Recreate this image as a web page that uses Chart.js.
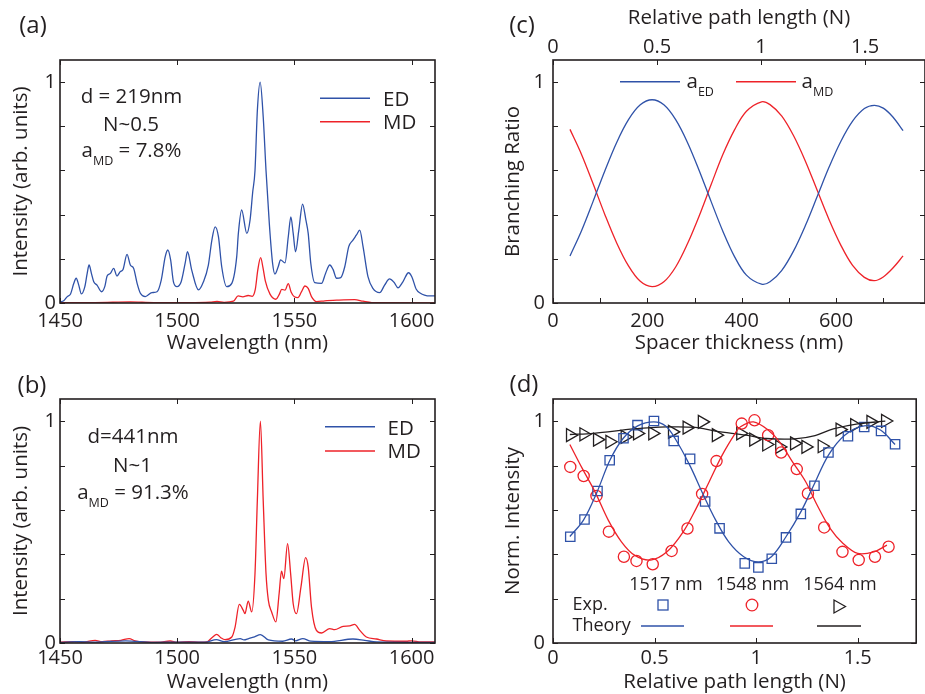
<!DOCTYPE html>
<html>
<head>
<meta charset="utf-8">
<script src="https://cdn.jsdelivr.net/npm/chart.js@4"></script>
<style>
  html, body { margin: 0; padding: 0; background: #fff; overflow: hidden; }
  body { width: 925px; height: 694px; position: relative; font-family: "Open Sans", sans-serif; color: #231f20; }
  canvas { position: absolute; }
  .t { position: absolute; white-space: nowrap; line-height: 1; font-size: 20.5px; }
  .c { transform: translate(-50%, -50%); }
  .l { transform: translateY(-50%); }
  .t sub { font-size: 12.5px; line-height: 0; vertical-align: -8px; }
  .tag { font-size: 24px; }
  .small { font-size: 18px; }
</style>
</head>
<body>
<canvas id="chart-a" width="460" height="356" style="left:0;top:0"></canvas>
<canvas id="chart-b" width="460" height="334" style="left:0;top:360px"></canvas>
<canvas id="chart-c" width="465" height="356" style="left:460px;top:0"></canvas>
<canvas id="chart-d" width="465" height="334" style="left:460px;top:360px"></canvas>

<div class="t c tag" style="left:33px;top:24px">(a)</div>
<div class="t c tag" style="left:32px;top:384px">(b)</div>
<div class="t c tag" style="left:522px;top:24px">(c)</div>
<div class="t c tag" style="left:524px;top:383px">(d)</div>

<div class="t c" style="left:131.5px;top:95.3px">d = 219nm</div>
<div class="t c" style="left:131px;top:122.6px">N~0.5</div>
<div class="t c" style="left:131.5px;top:150.3px">a<sub>MD</sub> = 7.8%</div>
<div class="t l" style="left:383px;top:97.5px">ED</div>
<div class="t l" style="left:383px;top:121.2px">MD</div>

<div class="t c" style="left:133px;top:435.3px">d=441nm</div>
<div class="t c" style="left:132.5px;top:463.6px">N~1</div>
<div class="t c" style="left:133px;top:492.3px">a<sub>MD</sub> = 91.3%</div>
<div class="t l" style="left:387.5px;top:426.7px">ED</div>
<div class="t l" style="left:387.5px;top:450.3px">MD</div>

<div class="t l" style="left:686.5px;top:81.4px">a<sub>ED</sub></div>
<div class="t l" style="left:801.5px;top:81.4px">a<sub>MD</sub></div>

<div class="t c small" style="left:666px;top:583.3px">1517 nm</div>
<div class="t c small" style="left:752.5px;top:583.3px">1548 nm</div>
<div class="t c small" style="left:840px;top:583.3px">1564 nm</div>
<div class="t l small" style="left:572.5px;top:603.3px">Exp.</div>
<div class="t l small" style="left:572.5px;top:624.3px">Theory</div>

<script>
const INK = "#231f20";
const BLUE = "#2f52a8";
const RED = "#ee2229";

// (a) d = 219 nm spectrum
const wavelengthEdA = [1450, 1451.6, 1453.1, 1454.5, 1455.9, 1456.9, 1458, 1459.1, 1460.6, 1461.6, 1462.4, 1463.4, 1464.4, 1465.8, 1467.7, 1469.1, 1470.1, 1471.5, 1472.9, 1474.3, 1475.7, 1476.9, 1478.6, 1480, 1481.4, 1482.9, 1484.3, 1486.4, 1489.2, 1491.4, 1493.2, 1494.9, 1496, 1497.2, 1498.4, 1499.9, 1501.7, 1503.4, 1504.4, 1506.2, 1509.1, 1511.2, 1513.3, 1514.8, 1516.2, 1517.6, 1519, 1521.1, 1523.3, 1525.4, 1526.1, 1527.5, 1529.7, 1531.1, 1532.2, 1533.2, 1534.2, 1535.4, 1536.7, 1537.9, 1539.3, 1540.7, 1541.7, 1543.1, 1544.1, 1546, 1547.4, 1548.5, 1549.5, 1550.5, 1551.9, 1553.5, 1554.9, 1555.9, 1557, 1558.7, 1561.6, 1563.3, 1565.1, 1566.5, 1568, 1569.8, 1571.5, 1573.2, 1575, 1576.5, 1577.9, 1579.3, 1581.4, 1583.5, 1586.4, 1588.5, 1590.6, 1592.5, 1594.2, 1596.3, 1598.7, 1600.1, 1602, 1603.8, 1605.5, 1607.7, 1610];
const intensityEdA = [0.005, 0.01, 0.029, 0.041, 0.089, 0.112, 0.081, 0.041, 0.074, 0.134, 0.172, 0.134, 0.096, 0.081, 0.051, 0.074, 0.122, 0.134, 0.157, 0.122, 0.142, 0.152, 0.22, 0.172, 0.157, 0.089, 0.044, 0.029, 0.047, 0.051, 0.104, 0.21, 0.24, 0.195, 0.096, 0.074, 0.096, 0.18, 0.232, 0.149, 0.059, 0.096, 0.172, 0.285, 0.345, 0.3, 0.164, 0.074, 0.089, 0.21, 0.315, 0.421, 0.315, 0.376, 0.5, 0.6, 0.87, 1.0, 0.843, 0.6, 0.361, 0.18, 0.131, 0.164, 0.195, 0.182, 0.3, 0.39, 0.315, 0.232, 0.33, 0.448, 0.376, 0.315, 0.18, 0.092, 0.089, 0.134, 0.172, 0.152, 0.112, 0.115, 0.164, 0.255, 0.285, 0.308, 0.33, 0.255, 0.119, 0.066, 0.047, 0.081, 0.109, 0.094, 0.069, 0.096, 0.137, 0.119, 0.062, 0.044, 0.036, 0.032, 0.032];
const wavelengthMdA = [1450, 1465, 1480, 1490, 1505, 1514, 1517, 1520, 1524, 1526, 1528, 1530.3, 1532, 1533.3, 1534.4, 1535.6, 1536.6, 1537.6, 1539.6, 1542.1, 1543.6, 1544.6, 1546, 1547.4, 1548.6, 1550, 1551.5, 1553, 1554.5, 1555.9, 1557.3, 1559.5, 1563, 1568.6, 1575.7, 1579.3, 1583, 1610];
const intensityMdA = [0.002, 0.002, 0.005, 0.002, 0.002, 0.004, 0.007, 0.003, 0.008, 0.032, 0.028, 0.034, 0.03, 0.06, 0.15, 0.205, 0.16, 0.1, 0.04, 0.017, 0.04, 0.062, 0.058, 0.088, 0.05, 0.028, 0.024, 0.05, 0.077, 0.066, 0.029, 0.006, 0.01, 0.013, 0.015, 0.008, 0.002, 0.001];

// (b) d = 441 nm spectrum
const wavelengthEdB = [1450, 1458, 1465, 1478, 1490, 1500, 1512, 1516.7, 1520, 1526.9, 1528.5, 1530.5, 1533, 1535.5, 1538.9, 1545, 1548.8, 1550.5, 1553.6, 1557, 1565, 1575, 1580, 1585, 1610];
const intensityEdB = [0.003, 0.006, 0.004, 0.01, 0.003, 0.004, 0.004, 0.015, 0.006, 0.02, 0.014, 0.02, 0.028, 0.038, 0.014, 0.008, 0.018, 0.01, 0.02, 0.008, 0.006, 0.018, 0.012, 0.005, 0.003];
const wavelengthMdB = [1450, 1456, 1460, 1465, 1468, 1472, 1476, 1479.5, 1482, 1486, 1492, 1497, 1500, 1505, 1510, 1512.6, 1514.8, 1516.9, 1518.6, 1520.4, 1523.3, 1524.7, 1526.5, 1528.2, 1528.9, 1530.3, 1531.8, 1533.2, 1534.2, 1535.5, 1536.7, 1537.9, 1538.9, 1540.3, 1542.1, 1543.5, 1544.5, 1545.5, 1547.1, 1548.4, 1549.5, 1550.9, 1552.8, 1554.8, 1555.9, 1557.3, 1559.4, 1561.6, 1565.1, 1567.2, 1570.8, 1573.6, 1575.7, 1577.9, 1580.7, 1585, 1589.2, 1597.7, 1600, 1604, 1610];
const intensityMdB = [0.004, 0.006, 0.004, 0.012, 0.006, 0.01, 0.012, 0.02, 0.01, 0.005, 0.004, 0.009, 0.004, 0.006, 0.004, 0.005, 0.024, 0.039, 0.024, 0.015, 0.027, 0.072, 0.174, 0.147, 0.132, 0.189, 0.14, 0.313, 0.643, 1.0, 0.643, 0.313, 0.192, 0.14, 0.095, 0.223, 0.324, 0.29, 0.448, 0.313, 0.177, 0.132, 0.252, 0.385, 0.342, 0.162, 0.057, 0.045, 0.065, 0.06, 0.075, 0.077, 0.084, 0.057, 0.027, 0.018, 0.009, 0.008, 0.01, 0.005, 0.005];

// (c) branching ratio vs spacer thickness
const spacerThickness = [36, 60, 85, 110, 135, 160, 185, 210, 235, 260, 285, 310, 335, 360, 385, 410, 442, 460, 485, 510, 535, 560, 585, 610, 635, 660, 681, 700, 720, 742];
const branchingEd = [0.213, 0.325, 0.46, 0.599, 0.727, 0.83, 0.897, 0.92, 0.897, 0.83, 0.727, 0.599, 0.46, 0.325, 0.209, 0.126, 0.085, 0.096, 0.148, 0.236, 0.351, 0.482, 0.614, 0.731, 0.823, 0.88, 0.895, 0.882, 0.843, 0.78];
const branchingMd = [0.786, 0.675, 0.54, 0.4, 0.272, 0.168, 0.098, 0.074, 0.096, 0.163, 0.268, 0.395, 0.535, 0.672, 0.785, 0.868, 0.911, 0.898, 0.846, 0.757, 0.642, 0.51, 0.378, 0.262, 0.17, 0.116, 0.101, 0.118, 0.157, 0.213];

// (d) normalised intensity vs relative path length
const pathExp1517 = [0.085, 0.155, 0.219, 0.279, 0.347, 0.416, 0.497, 0.594, 0.675, 0.749, 0.82, 0.944, 1.011, 1.077, 1.147, 1.22, 1.287, 1.356, 1.452, 1.532, 1.615, 1.684];
const normExp1517 = [0.479, 0.557, 0.685, 0.824, 0.923, 0.982, 1.001, 0.911, 0.83, 0.638, 0.517, 0.359, 0.341, 0.38, 0.476, 0.582, 0.709, 0.859, 0.932, 0.974, 0.956, 0.896];
const pathExp1548 = [0.085, 0.151, 0.214, 0.275, 0.349, 0.411, 0.491, 0.584, 0.662, 0.734, 0.805, 0.929, 0.992, 1.059, 1.123, 1.2, 1.255, 1.335, 1.425, 1.505, 1.585, 1.652];
const normExp1548 = [0.794, 0.753, 0.663, 0.502, 0.389, 0.37, 0.355, 0.415, 0.516, 0.672, 0.82, 0.989, 1.004, 0.937, 0.859, 0.784, 0.674, 0.521, 0.411, 0.374, 0.389, 0.434];
const pathExp1564 = [0.085, 0.151, 0.218, 0.279, 0.354, 0.415, 0.49, 0.587, 0.659, 0.734, 0.803, 0.923, 0.987, 1.051, 1.115, 1.188, 1.244, 1.324, 1.412, 1.484, 1.564, 1.636];
const normExp1564 = [0.937, 0.941, 0.917, 0.907, 0.929, 0.945, 0.945, 0.952, 0.971, 0.997, 0.937, 0.945, 0.917, 0.895, 0.884, 0.9, 0.884, 0.887, 0.962, 0.982, 0.997, 1.001];

const pathTheory1517 = [0.083, 0.15, 0.216, 0.28, 0.345, 0.417, 0.497, 0.553, 0.601, 0.673, 0.737, 0.801, 0.865, 0.939, 1.011, 1.075, 1.147, 1.22, 1.284, 1.356, 1.436, 1.532, 1.612, 1.684];
const normTheory1517 = [0.48, 0.554, 0.679, 0.824, 0.922, 0.979, 0.997, 0.979, 0.922, 0.802, 0.674, 0.554, 0.456, 0.389, 0.366, 0.389, 0.479, 0.591, 0.712, 0.847, 0.937, 0.979, 0.96, 0.895];
const pathTheory1548 = [0.083, 0.144, 0.208, 0.272, 0.337, 0.401, 0.481, 0.561, 0.641, 0.705, 0.769, 0.833, 0.897, 0.923, 0.987, 1.059, 1.115, 1.179, 1.244, 1.3, 1.364, 1.428, 1.5, 1.58, 1.644];
const normTheory1548 = [0.895, 0.787, 0.679, 0.554, 0.456, 0.396, 0.374, 0.411, 0.501, 0.607, 0.727, 0.847, 0.945, 0.975, 0.997, 0.96, 0.907, 0.817, 0.727, 0.622, 0.517, 0.449, 0.404, 0.411, 0.441];
const pathTheory1564 = [0.083, 0.2, 0.4, 0.56, 0.7, 0.8, 0.95, 1.05, 1.19, 1.29, 1.38, 1.5, 1.636];
const normTheory1564 = [0.94, 0.945, 0.965, 0.974, 0.972, 0.955, 0.937, 0.922, 0.92, 0.935, 0.965, 0.988, 1.0];

Chart.defaults.font.family = "'Open Sans', sans-serif";
Chart.defaults.font.size = 20;
Chart.defaults.color = INK;

function toPoints(xs, ys) {
  return xs.map((x, i) => ({ x: x, y: ys[i] }));
}

function curve(xs, ys, color, smooth) {
  return {
    data: toPoints(xs, ys),
    showLine: true,
    borderColor: color,
    borderWidth: 1.3,
    pointRadius: 0,
    cubicInterpolationMode: smooth ? "monotone" : "default",
    tension: smooth ? 0 : 0.35,
  };
}

function markers(xs, ys, color, style, radius, rotation) {
  return {
    data: toPoints(xs, ys),
    showLine: false,
    borderColor: color,
    backgroundColor: "rgba(0,0,0,0)",
    pointStyle: style,
    pointRadius: radius,
    pointBorderWidth: 1.3,
    pointRotation: rotation || 0,
  };
}

// inward tick marks on all four sides plus the box
const frameTicks = {
  id: "frameTicks",
  afterDraw(chart) {
    const { ctx, chartArea: a, scales } = chart;
    const len = 5;
    const top = scales.x2 || scales.x;
    ctx.save();
    ctx.strokeStyle = INK;
    ctx.lineWidth = 1;
    ctx.beginPath();
    scales.x.ticks.forEach((t) => {
      const px = Math.round(scales.x.getPixelForValue(t.value)) + 0.5;
      ctx.moveTo(px, a.bottom);
      ctx.lineTo(px, a.bottom - len);
    });
    top.ticks.forEach((t) => {
      const px = Math.round(top.getPixelForValue(t.value)) + 0.5;
      ctx.moveTo(px, a.top);
      ctx.lineTo(px, a.top + len);
    });
    scales.y.ticks.forEach((t) => {
      const py = Math.round(scales.y.getPixelForValue(t.value)) + 0.5;
      ctx.moveTo(a.left, py);
      ctx.lineTo(a.left + len, py);
      ctx.moveTo(a.right, py);
      ctx.lineTo(a.right - len, py);
    });
    ctx.stroke();
    ctx.lineWidth = 1.6;
    ctx.strokeRect(a.left, a.top, a.right - a.left, a.bottom - a.top);
    ctx.restore();
  },
};

// legend line samples, in canvas pixels: [x0, x1, y, colour]
function keyLines(lines) {
  return {
    id: "keyLines",
    afterDraw(chart) {
      const ctx = chart.ctx;
      ctx.save();
      ctx.lineWidth = 1.4;
      lines.forEach(([x0, x1, y, c]) => {
        ctx.strokeStyle = c;
        ctx.beginPath();
        ctx.moveTo(x0, y);
        ctx.lineTo(x1, y);
        ctx.stroke();
      });
      ctx.restore();
    },
  };
}

// legend markers of panel (d)
const keyMarkers = {
  id: "keyMarkers",
  afterDraw(chart) {
    const ctx = chart.ctx;
    ctx.save();
    ctx.lineWidth = 1.3;
    ctx.strokeStyle = BLUE;
    ctx.strokeRect(198, 240, 10, 10);
    ctx.strokeStyle = RED;
    ctx.beginPath();
    ctx.arc(292, 245, 5.8, 0, Math.PI * 2);
    ctx.stroke();
    ctx.strokeStyle = INK;
    ctx.beginPath();
    ctx.moveTo(385.5, 246.5);
    ctx.lineTo(374, 240);
    ctx.lineTo(374, 253);
    ctx.closePath();
    ctx.stroke();
    ctx.restore();
  },
};

function yAxis(title, width, titlePad, pad) {
  return {
    min: 0,
    max: 1.1,
    grid: { display: false, drawTicks: false },
    border: { display: false },
    ticks: {
      stepSize: 0.2,
      includeBounds: false,
      autoSkip: false,
      padding: pad,
      callback: (v) => (v === 0 ? "0" : Math.abs(v - 1) < 1e-6 ? "1" : ""),
    },
    title: { display: true, text: title, font: { size: 20.5 }, padding: { top: titlePad, bottom: 0 } },
    afterFit: (s) => { s.width = width; },
  };
}

function xAxis(min, max, step, title, height, pad, titlePad, label, position) {
  return {
    type: "linear",
    position: position || "bottom",
    min: min,
    max: max,
    grid: { display: false, drawTicks: false },
    border: { display: false },
    ticks: {
      stepSize: step,
      includeBounds: false,
      autoSkip: false,
      maxRotation: 0,
      padding: pad,
      callback: label || ((v) => String(v)),
    },
    title: { display: true, text: title, font: { size: 20.5 }, padding: position === "top" ? { top: titlePad, bottom: 0 } : { top: 0, bottom: titlePad } },
    afterFit: (s) => { s.height = height; },
  };
}

function baseOptions(scales, padding) {
  return {
    responsive: false,
    animation: false,
    events: [],
    layout: { padding: padding },
    plugins: { legend: { display: false }, tooltip: { enabled: false } },
    scales: scales,
  };
}

new Chart(document.getElementById("chart-a"), {
  type: "scatter",
  data: {
    datasets: [
      curve(wavelengthEdA, intensityEdA, BLUE, true),
      curve(wavelengthMdA, intensityMdA, RED, true),
    ],
  },
  options: baseOptions({
    x: xAxis(1450, 1610, 50, "Wavelength (nm)", 53, 6, 1),
    y: yAxis("Intensity (arb. units)", 60, 9, 4),
  }, { top: 60, right: 25, left: 0, bottom: 0 }),
  plugins: [frameTicks, keyLines([[320, 370, 98.3, BLUE], [320, 370, 121.7, RED]])],
});

new Chart(document.getElementById("chart-b"), {
  type: "scatter",
  data: {
    datasets: [
      curve(wavelengthEdB, intensityEdB, BLUE, true),
      curve(wavelengthMdB, intensityMdB, RED, true),
    ],
  },
  options: baseOptions({
    x: xAxis(1450, 1610, 50, "Wavelength (nm)", 51, 3, 0),
    y: yAxis("Intensity (arb. units)", 60, 9, 4),
  }, { top: 39, right: 25, left: 0, bottom: 0 }),
  plugins: [frameTicks, keyLines([[325, 375, 66.7, BLUE], [325, 375, 91, RED]])],
});

new Chart(document.getElementById("chart-c"), {
  type: "scatter",
  data: {
    datasets: [
      Object.assign(curve(spacerThickness, branchingEd, BLUE, false), { xAxisID: "x" }),
      Object.assign(curve(spacerThickness, branchingMd, RED, false), { xAxisID: "x" }),
    ],
  },
  options: baseOptions({
    x: xAxis(0, 788.5, 100, "Spacer thickness (nm)", 53, 6, 1, (v) => (v % 200 === 0 ? String(v) : "")),
    x2: xAxis(0, 1.788, 0.5, "Relative path length (N)", 60, 1, 6, null, "top"),
    y: yAxis("Branching Ratio", 93, 41, 8),
  }, { top: 0, right: 0, left: 0, bottom: 0 }),
  plugins: [frameTicks, keyLines([[160, 220, 81.7, BLUE], [276, 336, 81.7, RED]])],
});

new Chart(document.getElementById("chart-d"), {
  type: "scatter",
  data: {
    datasets: [
      curve(pathTheory1517, normTheory1517, BLUE, false),
      curve(pathTheory1548, normTheory1548, RED, false),
      curve(pathTheory1564, normTheory1564, INK, false),
      markers(pathExp1517, normExp1517, BLUE, "rect", 6.6),
      markers(pathExp1548, normExp1548, RED, "circle", 5.6),
      markers(pathExp1564, normExp1564, INK, "triangle", 7.5, 90),
    ],
  },
  options: baseOptions({
    x: xAxis(0, 1.788, 0.5, "Relative path length (N)", 51, 3, 0),
    y: yAxis("Norm. Intensity", 93, 41, 8),
  }, { top: 39, right: 0, left: 0, bottom: 0 }),
  plugins: [frameTicks, keyLines([[181, 224, 266, BLUE], [270, 313, 266, RED], [357, 401, 266, INK]]), keyMarkers],
});
</script>
</body>
</html>
